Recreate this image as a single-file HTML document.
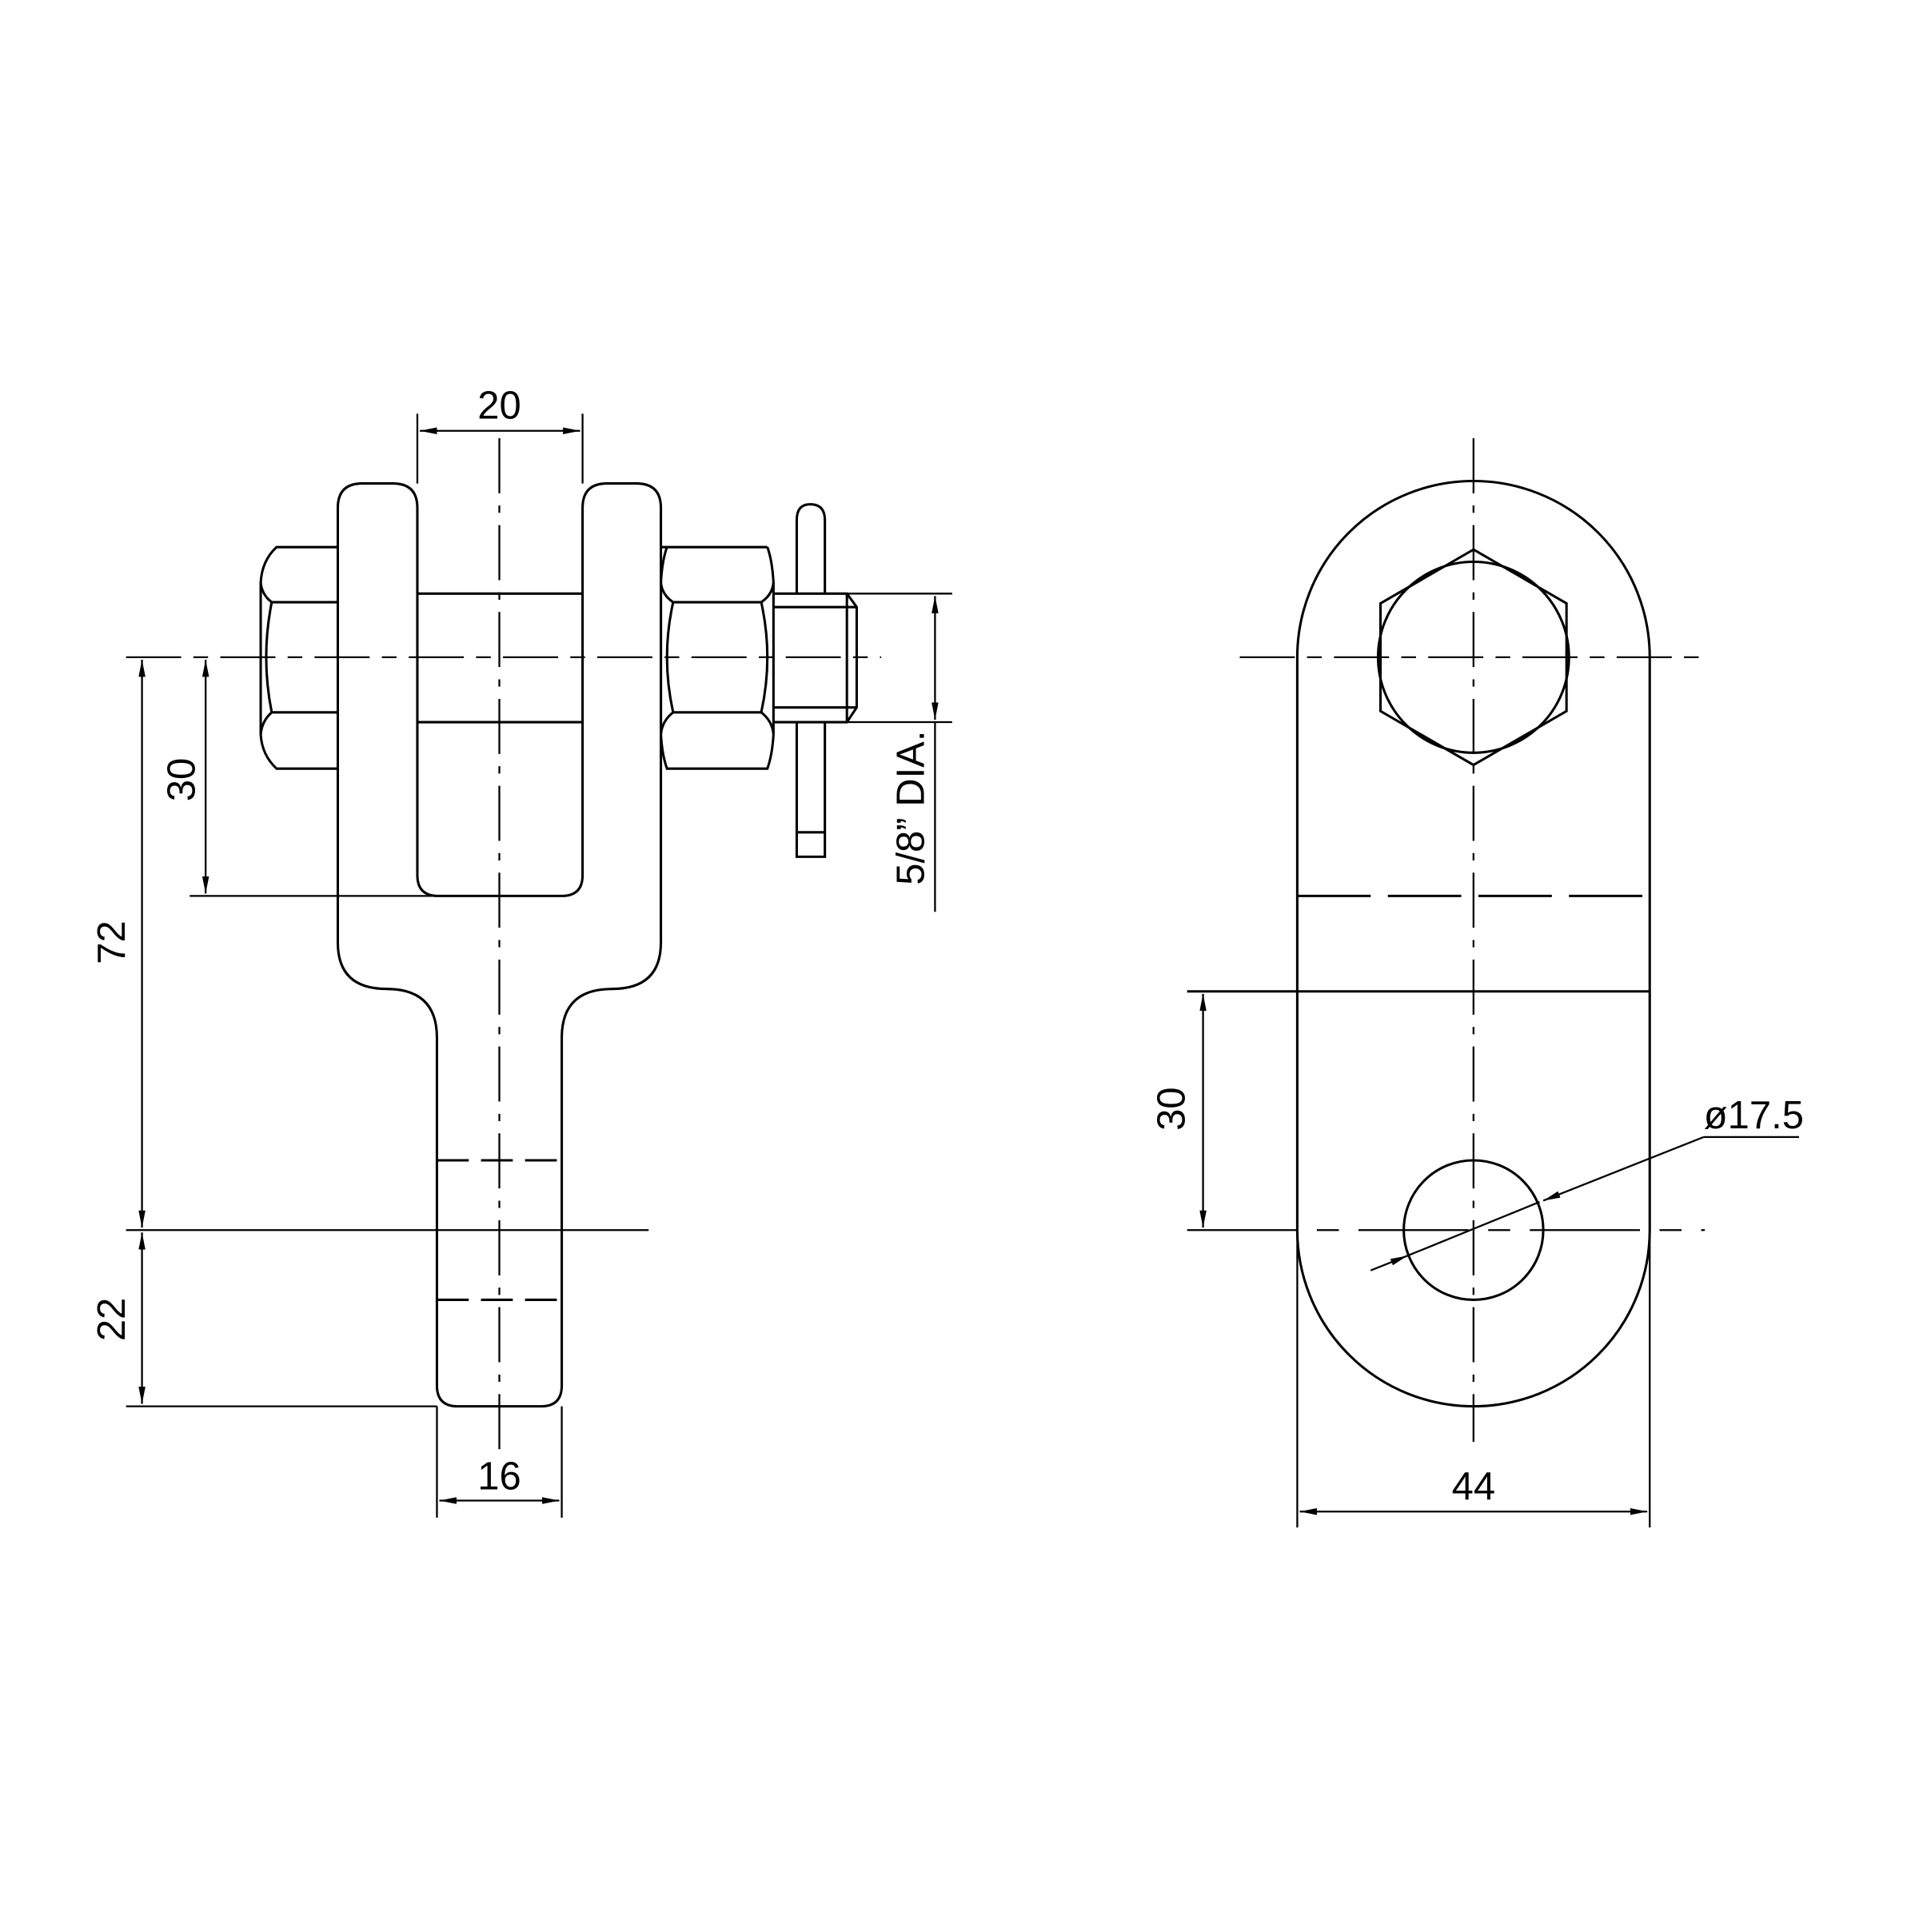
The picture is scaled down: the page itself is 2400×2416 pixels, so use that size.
<!DOCTYPE html>
<html><head><meta charset="utf-8"><style>
html,body{margin:0;padding:0;background:#fff}
svg{display:block}
text{font-family:"Liberation Sans",sans-serif;font-size:32px;fill:#000}
</style></head><body>
<svg width="2400" height="2416" viewBox="0 0 1568 1578.5" xmlns="http://www.w3.org/2000/svg">
<defs>
<marker id="a" viewBox="0 0 10 4" refX="10" refY="2" markerWidth="14" markerHeight="5.6" orient="auto-start-reverse" markerUnits="userSpaceOnUse"><path d="M0,0 L10,2 L0,4 z" fill="#000"/></marker>
</defs>
<g fill="none" stroke="#000" stroke-width="2">
<path d="M296,395 H321 Q341,395 341,415 V715 Q341,732 358,732 H459 Q476,732 476,715 V415 Q476,395 496,395 H520 Q540,395 540,415 V770 Q540,808 500,808 Q459,808 459,848 V1132 Q459,1149 442,1149 H374 Q357,1149 357,1132 V848 Q357,808 316,808 Q276,808 276,770 V415 Q276,395 296,395 Z"/>
<line x1="341" y1="485" x2="476" y2="485"/>
<line x1="341" y1="590" x2="476" y2="590"/>
<path d="M276,447 H226 Q214,458 213,476 Q214,486 222,492 H276"/>
<path d="M222,492 Q213,537 222,582"/>
<path d="M276,628 H226 Q214,617 213,600 Q214,589 222,582 H276"/>
<line x1="213" y1="476" x2="213" y2="600"/>
<path d="M540,447 H627 M545,447 Q541,458 540,476 Q541,486 550,492 H622 Q631,486 632,476 Q631,458 627,447"/>
<path d="M550,492 Q540,537 550,582 M622,492 Q632,537 622,582"/>
<path d="M545,628 Q541,617 540,600 Q541,589 550,582 H622 Q631,589 632,600 Q631,617 627,628 Z"/>
<line x1="540" y1="476" x2="540" y2="600"/>
<line x1="632" y1="476" x2="632" y2="600"/>
<path d="M632,485 H692 L700,496 V578 L692,590 H632"/>
<line x1="692" y1="485" x2="692" y2="590"/>
<line x1="632" y1="496" x2="700" y2="496"/>
<line x1="632" y1="578" x2="700" y2="578"/>
<path d="M651,485 V425 Q651,412 662,412 Q674,412 674,425 V485"/>
<path d="M651,590 V700 H674 V590"/>
<line x1="651" y1="680" x2="674" y2="680"/>
<line x1="357" y1="948" x2="459" y2="948" stroke-dasharray="26,10"/>
<line x1="357" y1="1062" x2="459" y2="1062" stroke-dasharray="26,10"/>
</g>
<g fill="none" stroke="#000" stroke-width="1.5">
<line x1="408" y1="358" x2="408" y2="1185" stroke-dasharray="45,10,6,10"/>
<line x1="103" y1="537" x2="720" y2="537" stroke-dasharray="45,10,12,10"/>
<line x1="103" y1="1005" x2="530" y2="1005"/>
<line x1="341" y1="338" x2="341" y2="395"/>
<line x1="476" y1="338" x2="476" y2="395"/>
<line x1="343" y1="352" x2="474" y2="352" marker-start="url(#a)" marker-end="url(#a)"/>
<line x1="155" y1="732" x2="357" y2="732"/>
<line x1="168" y1="539" x2="168" y2="730" marker-start="url(#a)" marker-end="url(#a)"/>
<line x1="116" y1="539" x2="116" y2="1003" marker-start="url(#a)" marker-end="url(#a)"/>
<line x1="103" y1="1149" x2="357" y2="1149"/>
<line x1="116" y1="1007" x2="116" y2="1147" marker-start="url(#a)" marker-end="url(#a)"/>
<line x1="357" y1="1149" x2="357" y2="1240"/>
<line x1="459" y1="1149" x2="459" y2="1240"/>
<line x1="359" y1="1226" x2="457" y2="1226" marker-start="url(#a)" marker-end="url(#a)"/>
<line x1="692" y1="485" x2="778" y2="485"/>
<line x1="692" y1="590" x2="778" y2="590"/>
<line x1="764" y1="487" x2="764" y2="588" marker-start="url(#a)" marker-end="url(#a)"/>
<line x1="764" y1="590" x2="764" y2="745"/>
</g>
<g fill="none" stroke="#000" stroke-width="2">
<path d="M1060,1005 V537 A144,144 0 0 1 1348,537 V1005 A144,144 0 0 1 1060,1005"/>
<circle cx="1204" cy="537" r="78"/>
<polygon points="1204,449 1280,493 1280,581 1204,625 1128,581 1128,493"/>
<circle cx="1204" cy="1005" r="57"/>
<line x1="1060" y1="732" x2="1348" y2="732" stroke-dasharray="60,14"/>
<line x1="970" y1="810" x2="1348" y2="810"/>
</g>
<g fill="none" stroke="#000" stroke-width="1.5">
<line x1="1204" y1="358" x2="1204" y2="1178" stroke-dasharray="45,10,6,10"/>
<line x1="1013" y1="537" x2="1393" y2="537" stroke-dasharray="45,10,12,10"/>
<line x1="970" y1="1005" x2="1393" y2="1005" stroke-dasharray="90,16,18,16"/>
<line x1="1060" y1="1005" x2="1060" y2="1248"/>
<line x1="1348" y1="1005" x2="1348" y2="1248"/>
<line x1="1062" y1="1235" x2="1346" y2="1235" marker-start="url(#a)" marker-end="url(#a)"/>
<line x1="983" y1="812" x2="983" y2="1003" marker-start="url(#a)" marker-end="url(#a)"/>
<line x1="1120" y1="1038" x2="1150" y2="1026" marker-end="url(#a)"/>
<line x1="1150" y1="1026" x2="1258" y2="982"/>
<line x1="1392" y1="929" x2="1261" y2="981" marker-end="url(#a)"/>
<line x1="1392" y1="929" x2="1470" y2="929"/>
</g>
<text x="408" y="342" text-anchor="middle">20</text>
<text x="408" y="1217" text-anchor="middle">16</text>
<text transform="translate(159,637) rotate(-90)" text-anchor="middle">30</text>
<text transform="translate(102,770) rotate(-90)" text-anchor="middle">72</text>
<text transform="translate(102,1078) rotate(-90)" text-anchor="middle">22</text>
<text transform="translate(755,660) rotate(-90)" text-anchor="middle">5/8” DIA.</text>
<text transform="translate(968,906) rotate(-90)" text-anchor="middle">30</text>
<text x="1204" y="1225" text-anchor="middle">44</text>
<text x="1433" y="922" text-anchor="middle">ø17.5</text>
</svg>
</body></html>
